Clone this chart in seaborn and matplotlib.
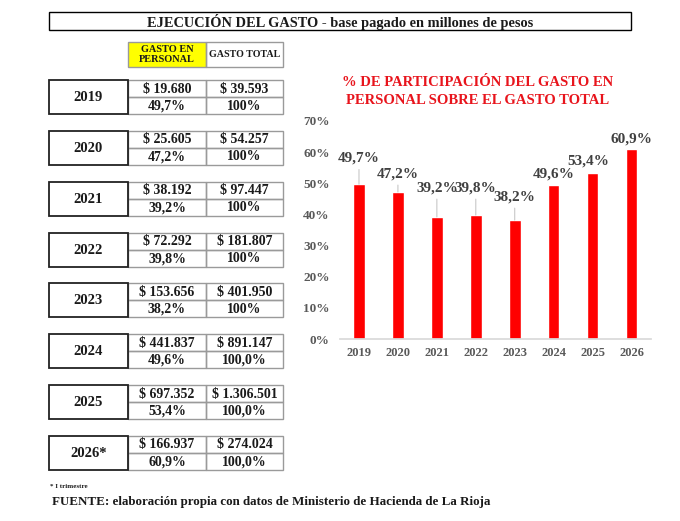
import matplotlib
matplotlib.use("Agg")
import matplotlib.pyplot as plt
import seaborn as sns
import pandas as pd
from matplotlib.patches import Rectangle

# Datos del cuadro y del grafico
years = ["2019", "2020", "2021", "2022", "2023", "2024", "2025", "2026"]
year_labels = ["2019", "2020", "2021", "2022", "2023", "2024", "2025", "2026*"]
gasto_personal = ["$ 19.680", "$ 25.605", "$ 38.192", "$ 72.292",
                  "$ 153.656", "$ 441.837", "$ 697.352", "$ 166.937"]
gasto_total = ["$ 39.593", "$ 54.257", "$ 97.447", "$ 181.807",
               "$ 401.950", "$ 891.147", "$ 1.306.501", "$ 274.024"]
pct_personal = [49.7, 47.2, 39.2, 39.8, 38.2, 49.6, 53.4, 60.9]
pct_total = ["100%", "100%", "100%", "100%", "100%", "100,0%", "100,0%", "100,0%"]
yticks = [0, 10, 20, 30, 40, 50, 60, 70]

# desplazamiento de las etiquetas sobre las barras (en puntos porcentuales)
label_dy = [8.3, 5.8, 9.3, 8.7, 7.4, 3.4, 3.6, 3.3]
label_dx = [0, 0, 0, 0, 0, 0, -0.1, 0]

sns.set_theme(style="white")
plt.rcParams["font.family"] = ["Liberation Serif", "DejaVu Serif"]
plt.rcParams["font.weight"] = "bold"

fig = plt.figure(figsize=(6.8, 5.21), dpi=100)

# capa de fondo en pixeles para el cuadro
bg = fig.add_axes([0, 0, 1, 1])
bg.set_xlim(0, 680)
bg.set_ylim(521, 0)
bg.axis("off")


def box(x0, y0, x1, y1, ec, lw, fc="none"):
    bg.add_patch(Rectangle((x0, y0), x1 - x0, y1 - y0, fc=fc, ec=ec, lw=lw))


txt = "#1a1a1a"
grid = "#9a9a9a"
fs = 10

# titulo general
box(49, 12, 631, 30, "black", 1.0)
bg.text(340, 21.5, "EJECUCIÓN DEL GASTO - base pagado en millones de pesos",
        ha="center", va="center", fontsize=10.4, color=txt)

# encabezados
box(128, 42, 206, 67, grid, 1.0, fc="#ffff00")
box(206, 42, 283, 67, grid, 1.0)
bg.text(167, 54.5, "GASTO EN\nPERSONAL", ha="center", va="center",
        fontsize=7.4, color=txt, linespacing=1.1)
bg.text(244.5, 54.5, "GASTO TOTAL", ha="center", va="center",
        fontsize=7.2, color=txt)

# bloques por anio
for i, yl in enumerate(year_labels):
    top = 80 + i * 50.85
    box(128, top, 206, top + 17, grid, 1.0)
    box(206, top, 283, top + 17, grid, 1.0)
    box(128, top + 17, 206, top + 34, grid, 1.0)
    box(206, top + 17, 283, top + 34, grid, 1.0)
    box(49, top, 128, top + 34, "#222222", 1.3)
    bg.text(88.5, top + 17.5, yl, ha="center", va="center", fontsize=10.5, color=txt)
    bg.text(167, top + 9, gasto_personal[i], ha="center", va="center", fontsize=fs, color=txt)
    bg.text(244.5, top + 9, gasto_total[i], ha="center", va="center", fontsize=fs, color=txt)
    pct = f"{pct_personal[i]:.1f}%".replace(".", ",")
    bg.text(167, top + 26, pct, ha="center", va="center", fontsize=fs, color=txt)
    bg.text(244.5, top + 26, pct_total[i], ha="center", va="center", fontsize=fs, color=txt)

# notas
bg.text(50, 487, "* I trimestre", ha="left", va="center", fontsize=5, color=txt)
bg.text(52, 502, "FUENTE: elaboración propia con datos de Ministerio de Hacienda de La Rioja",
        ha="left", va="center", fontsize=9.4, color=txt)

# grafico de barras
ax = fig.add_axes([0.4993, 0.3493, 0.458, 0.4185])
df = pd.DataFrame({"anio": years, "pct": pct_personal})
sns.barplot(data=df, x="anio", y="pct", color="#ff0000", saturation=1,
            width=0.3, ax=ax)
ax.set_xlim(-0.5, 7.5)
ax.set_ylim(0, 70)
ax.set_yticks(yticks)
ax.set_yticklabels([f"{t}%" for t in yticks])
ax.set_xlabel("")
ax.set_ylabel("")
for s in ["top", "right", "left"]:
    ax.spines[s].set_visible(False)
ax.spines["bottom"].set_color("#d9d9d9")
ax.tick_params(axis="both", length=0, labelcolor="#595959")
ax.tick_params(axis="y", pad=7, labelsize=9.5)
ax.tick_params(axis="x", pad=6, labelsize=9)
ax.patch.set_alpha(0)

for i, v in enumerate(pct_personal):
    lab = f"{v:.1f}%".replace(".", ",")
    if label_dy[i] > 5:
        ax.annotate(lab, xy=(i, v), xytext=(i + label_dx[i], v + label_dy[i]),
                    ha="center", va="center", fontsize=11, color="#404040",
                    arrowprops=dict(arrowstyle="-", color="#c8c8c8", lw=0.8,
                                    shrinkA=1, shrinkB=0))
    else:
        ax.text(i + label_dx[i], v + label_dy[i], lab, ha="center", va="center",
                fontsize=11, color="#404040")

fig.text(478 / 680, 1 - 91.5 / 521, "% DE PARTICIPACIÓN DEL GASTO EN\nPERSONAL SOBRE EL GASTO TOTAL",
         ha="center", va="center", fontsize=10.5, color="#e8141c", linespacing=1.4)

fig.savefig("out.png", dpi=100)
